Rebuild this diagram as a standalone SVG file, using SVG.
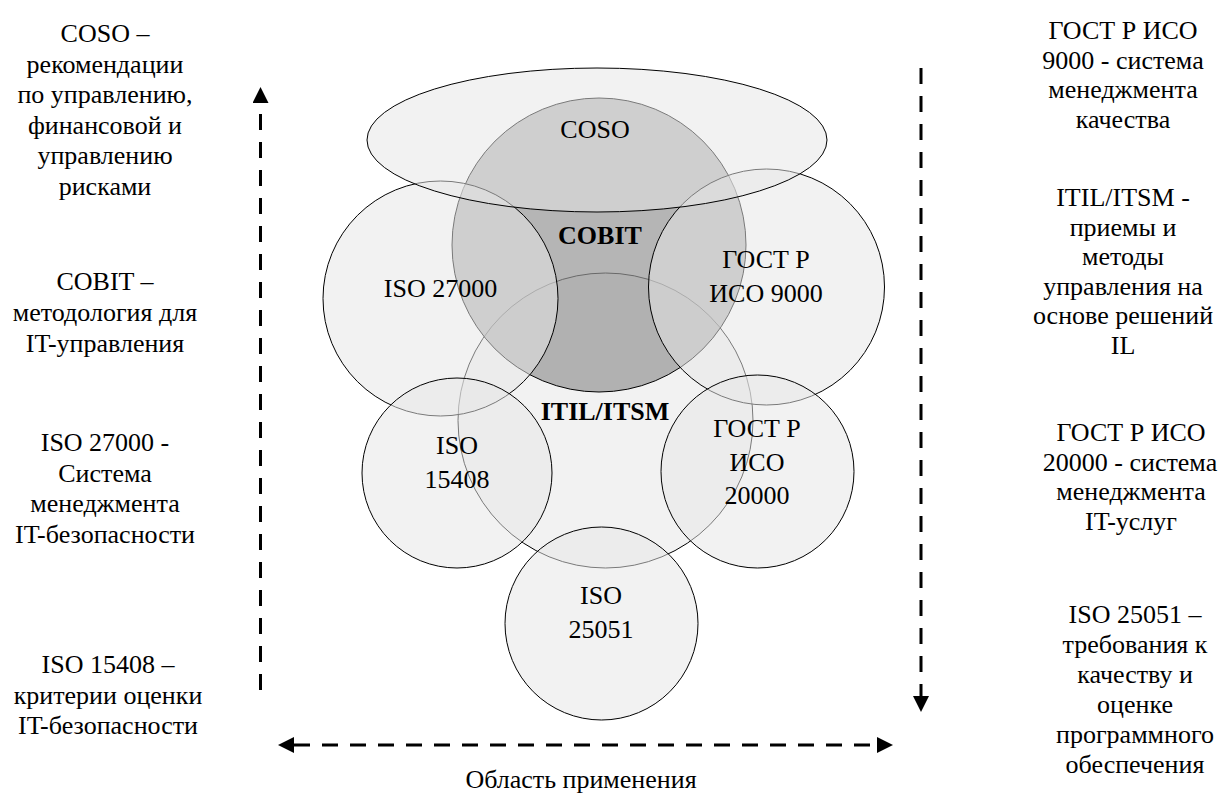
<svg xmlns="http://www.w3.org/2000/svg" width="1219" height="798" viewBox="0 0 1219 798">
<style>
.t{font-family:"Liberation Serif","Times New Roman",serif;font-size:26px;fill:#000;text-anchor:middle}
.b{font-weight:bold}
.lt{fill:#e7e7e7;fill-opacity:0.53;stroke:#000;stroke-width:1}
.dk{fill:#969696;fill-opacity:0.7;stroke:#000;stroke-width:1}
.ax{fill:none;stroke:#000;stroke-width:3;stroke-dasharray:16 12}
</style>
<defs>
<marker id="arr" markerUnits="userSpaceOnUse" markerWidth="16" markerHeight="16" viewBox="0 0 16 16" refX="0" refY="8" orient="auto-start-reverse">
<path d="M0,0 L16,8 L0,16 z" fill="#000"/>
</marker>
</defs>
<rect width="1219" height="798" fill="#fff"/>
<g id="itil"><circle class="lt" cx="605.5" cy="420.5" r="147.5"/></g>
<g id="cobit"><circle class="dk" cx="599" cy="245" r="147"/><text class="t b" x="600" y="244">COBIT</text></g>
<g id="iso27000"><circle class="lt" cx="440.5" cy="298.5" r="117.5"/><text class="t" x="440.5" y="297">ISO 27000</text></g>
<g id="gost9000"><circle class="lt" cx="766.5" cy="287" r="118"/><text class="t" x="766" y="268">ГОСТ Р</text><text class="t" x="766" y="302">ИСО 9000</text></g>
<g id="coso"><ellipse class="lt" cx="597" cy="140" rx="230" ry="72"/><text class="t" x="595" y="138">COSO</text></g>
<g id="iso15408"><circle class="lt" cx="457" cy="473" r="95"/><text class="t" x="457" y="454">ISO</text><text class="t" x="457" y="488">15408</text></g>
<g id="gost20000"><circle class="lt" cx="757.5" cy="471.5" r="96.5"/><text class="t" x="757" y="437">ГОСТ Р</text><text class="t" x="757" y="471">ИСО</text><text class="t" x="757" y="504">20000</text></g>
<g id="iso25051"><circle class="lt" cx="601.5" cy="623.5" r="96.5"/><text class="t" x="601" y="604">ISO</text><text class="t" x="601" y="638">25051</text></g>
<g id="itil-label"><text class="t b" x="605" y="420">ITIL/ITSM</text></g>
<g id="connectors">
<line class="ax" x1="260.5" y1="690" x2="260.5" y2="103" marker-end="url(#arr)"/>
<line class="ax" x1="921" y1="68" x2="921" y2="696" marker-end="url(#arr)"/>
<line class="ax" x1="294" y1="745" x2="877" y2="745" marker-start="url(#arr)" marker-end="url(#arr)"/>
</g>
<g id="left-notes">
<text class="t" x="105" y="42">COSO –</text>
<text class="t" x="105" y="72.5">рекомендации</text>
<text class="t" x="105" y="103">по управлению,</text>
<text class="t" x="105" y="133.5">финансовой и</text>
<text class="t" x="105" y="164">управлению</text>
<text class="t" x="105" y="194.5">рисками</text>
<text class="t" x="105" y="290">COBIT –</text>
<text class="t" x="105" y="321">методология для</text>
<text class="t" x="105" y="352">IT-управления</text>
<text class="t" x="105" y="451">ISO 27000 -</text>
<text class="t" x="105" y="481.5">Система</text>
<text class="t" x="105" y="512">менеджмента</text>
<text class="t" x="105" y="542.5">IT-безопасности</text>
<text class="t" x="108" y="673">ISO 15408 –</text>
<text class="t" x="108" y="703.5">критерии оценки</text>
<text class="t" x="108" y="734">IT-безопасности</text>
</g>
<g id="right-notes">
<text class="t" x="1123" y="39">ГОСТ Р ИСО</text>
<text class="t" x="1123" y="68.5">9000 - система</text>
<text class="t" x="1123" y="98">менеджмента</text>
<text class="t" x="1123" y="127.5">качества</text>
<text class="t" x="1123" y="206">ITIL/ITSM -</text>
<text class="t" x="1123" y="235.5">приемы и</text>
<text class="t" x="1123" y="265">методы</text>
<text class="t" x="1123" y="294.5">управления на</text>
<text class="t" x="1123" y="324">основе решений</text>
<text class="t" x="1123" y="353.5">IL</text>
<text class="t" x="1131" y="441">ГОСТ Р ИСО</text>
<text class="t" x="1130" y="471">20000 - система</text>
<text class="t" x="1131" y="500">менеджмента</text>
<text class="t" x="1131" y="530">IT-услуг</text>
<text class="t" x="1135" y="623">ISO 25051 –</text>
<text class="t" x="1135" y="653">требования к</text>
<text class="t" x="1135" y="683">качеству и</text>
<text class="t" x="1135" y="713">оценке</text>
<text class="t" x="1135" y="743">программного</text>
<text class="t" x="1135" y="773">обеспечения</text>
</g>
<g id="axis-label"><text class="t" x="581" y="788">Область применения</text></g>
</svg>
